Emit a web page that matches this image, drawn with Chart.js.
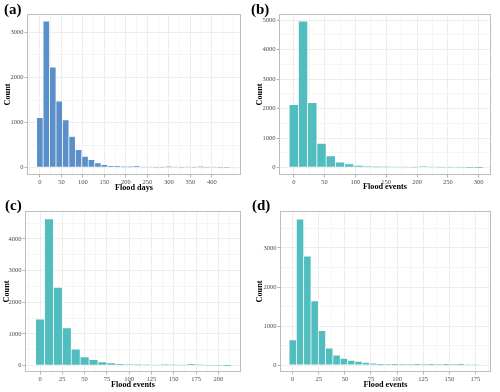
<!DOCTYPE html>
<html><head><meta charset="utf-8">
<script src="https://cdn.jsdelivr.net/npm/chart.js@4.4.1/dist/chart.umd.min.js"></script>
<style>
html,body{margin:0;padding:0;background:#fff;}
#wrap{position:relative;width:500px;height:392px;overflow:hidden;background:#fff;}
.panel{position:absolute;width:250px;height:196px;}
.panel canvas{display:block;}
.tag{position:absolute;font-family:"Liberation Serif","Times New Roman",serif;font-weight:bold;font-size:15px;line-height:15px;color:#000;}
</style></head><body>
<div id="wrap">
  <div class="panel" style="left:0;top:0"><canvas id="ca" width="250" height="196"></canvas></div>
  <div class="panel" style="left:250px;top:0"><canvas id="cb" width="250" height="196"></canvas></div>
  <div class="panel" style="left:0;top:196px"><canvas id="cc" width="250" height="196"></canvas></div>
  <div class="panel" style="left:250px;top:196px"><canvas id="cd" width="250" height="196"></canvas></div>
  <div class="tag" style="left:4px;top:2px">(a)</div>
  <div class="tag" style="left:251px;top:2px">(b)</div>
  <div class="tag" style="left:5px;top:198px">(c)</div>
  <div class="tag" style="left:252px;top:198px">(d)</div>
</div>
<script>
// ---------- data ----------
const binsA = [0,15,30,45,60,75,90,105,120,135,150,165,180,195,210,225,240,255,270,285,300,315,330,345,360,375,390,405,420,435];
const countsA = [1110,3250,2230,1475,1060,690,400,250,178,105,67,40,30,22,22,30,15,15,8,8,22,15,10,15,8,22,8,15,3,2];

const binsB = [0,15,30,45,60,75,90,105,120,135,150,165,180,195,210,225,240,255,270,285,300];
const countsB = [2140,4965,2205,825,395,190,130,75,45,35,30,28,25,22,45,25,20,18,12,3,1];

const binsC = [0,10,20,30,40,50,60,70,80,90,100,110,120,130,140,150,160,170,180,190,200,210];
const countsC = [1470,4630,2470,1190,525,275,190,118,88,50,40,35,30,28,35,30,28,45,30,20,10,3];

const binsD = [0,7,14,21,28,35,42,49,56,63,70,77,84,91,98,105,112,119,126,133,140,147,154,161,168,175];
const countsD = [650,3740,2790,1650,890,440,263,178,127,100,75,55,35,30,35,32,30,35,32,25,30,35,30,25,15,8];

const xTicksA = [0,50,100,150,200,250,300,350,400];
const xMinorA = [-25,25,75,125,175,225,275,325,375,425,450];
const yTicksA = [0,1000,2000,3000];
const yMinorA = [500,1500,2500];

const xTicksB = [0,50,100,150,200,250,300];
const xMinorB = [25,75,125,175,225,275];
const yTicksB = [0,1000,2000,3000,4000,5000];
const yMinorB = [500,1500,2500,3500,4500];

const xTicksC = [0,25,50,75,100,125,150,175,200];
const xMinorC = [-12.5,12.5,37.5,62.5,87.5,112.5,137.5,162.5,187.5,212.5];
const yTicksC = [0,1000,2000,3000,4000];
const yMinorC = [500,1500,2500,3500,4500];

const xTicksD = [0,25,50,75,100,125,150,175];
const xMinorD = [12.5,37.5,62.5,87.5,112.5,137.5,162.5,187.5];
const yTicksD = [0,1000,2000,3000];
const yMinorD = [500,1500,2500,3500];

const xTitles = ['Flood days','Flood events','Flood events','Flood events'];
const yTitle = 'Count';

// ---------- styling ----------
const FONT = '"Liberation Serif","Times New Roman",serif';
const frame = {
  id: 'frame',
  afterDatasetsDraw(chart) {
    const a = chart.chartArea, c = chart.ctx;
    c.save();
    c.strokeStyle = '#bdbdbd';
    c.lineWidth = 1;
    c.strokeRect(Math.round(a.left) + 0.5, Math.round(a.top) + 0.5,
                 Math.round(a.right) - Math.round(a.left) - 1, Math.round(a.bottom) - Math.round(a.top) - 1);
    c.restore();
  }
};

function axis(major, minor, min, max, title, titlePad, fit) {
  const all = major.concat(minor).sort((p, q) => p - q);
  const isMajor = v => major.indexOf(v) >= 0;
  return {
    type: 'linear', min: min, max: max, offset: false,
    afterBuildTicks: s => { s.ticks = all.map(v => ({ value: v })); },
    afterFit: fit,
    grid: {
      offset: false, drawTicks: true, tickLength: 2.5,
      color: ctx => (ctx.tick && isMajor(ctx.tick.value)) ? '#ededed' : '#f5f5f5',
      tickColor: ctx => (ctx.tick && isMajor(ctx.tick.value)) ? '#b3b3b3' : 'rgba(0,0,0,0)',
      lineWidth: 1, tickWidth: 1
    },
    border: { display: false },
    ticks: {
      autoSkip: false, maxRotation: 0, minRotation: 0, padding: 1,
      color: '#4d4d4d', font: { family: FONT, size: 6.5 },
      callback: v => isMajor(v) ? String(v) : ''
    },
    title: { display: true, text: title, color: '#000',
      font: { family: FONT, size: 8.2, weight: 'bold' }, padding: titlePad }
  };
}

function makeChart(id, bins, counts, color, o) {
  new Chart(document.getElementById(id), {
    type: 'bar',
    data: { datasets: [{
      data: bins.map((b, i) => ({ x: b, y: counts[i] })),
      backgroundColor: color, borderColor: '#ffffff', borderWidth: 0.7,
      borderSkipped: false, barPercentage: 1, categoryPercentage: 1
    }] },
    options: {
      responsive: false, animation: false, devicePixelRatio: 1,
      layout: { padding: { left: 0, top: o.top, right: 9, bottom: 0 } },
      plugins: { legend: { display: false }, tooltip: { enabled: false } },
      scales: {
        x: axis(o.xMajor, o.xMinor, o.xMin, o.xMax, o.xTitle, { top: 0, bottom: o.xPad },
                s => { s.height = 196 - o.bottom; }),
        y: axis(o.yMajor, o.yMinor, o.yMin, o.yMax, yTitle, { top: o.yPad, bottom: 0 },
                s => { s.width = o.left; })
      }
    },
    plugins: [frame]
  });
}

makeChart('ca', binsA, countsA, '#5b8fca', {
  xMajor: xTicksA, xMinor: xMinorA, xMin: -30, xMax: 468,
  yMajor: yTicksA, yMinor: yMinorA, yMin: -165, yMax: 3410,
  xTitle: xTitles[0], left: 27, top: 14, bottom: 175, xPad: 3.5, yPad: 3.0 });
makeChart('cb', binsB, countsB, '#52bdbe', {
  xMajor: xTicksB, xMinor: xMinorB, xMin: -24, xMax: 320,
  yMajor: yTicksB, yMinor: yMinorB, yMin: -250, yMax: 5210,
  xTitle: xTitles[1], left: 29, top: 14, bottom: 175, xPad: 4.0, yPad: 5.0 });
makeChart('cc', binsC, countsC, '#52bdbe', {
  xMajor: xTicksC, xMinor: xMinorC, xMin: -16.9, xMax: 225.5,
  yMajor: yTicksC, yMinor: yMinorC, yMin: -200, yMax: 4880,
  xTitle: xTitles[2], left: 25, top: 15, bottom: 176, xPad: 2.0, yPad: 1.7 });
makeChart('cd', binsD, countsD, '#52bdbe', {
  xMajor: xTicksD, xMinor: xMinorD, xMin: -12.2, xMax: 190,
  yMajor: yTicksD, yMinor: yMinorD, yMin: -170, yMax: 3945,
  xTitle: xTitles[3], left: 30, top: 15, bottom: 176, xPad: 1.7, yPad: 5.3 });
</script>
</body></html>
